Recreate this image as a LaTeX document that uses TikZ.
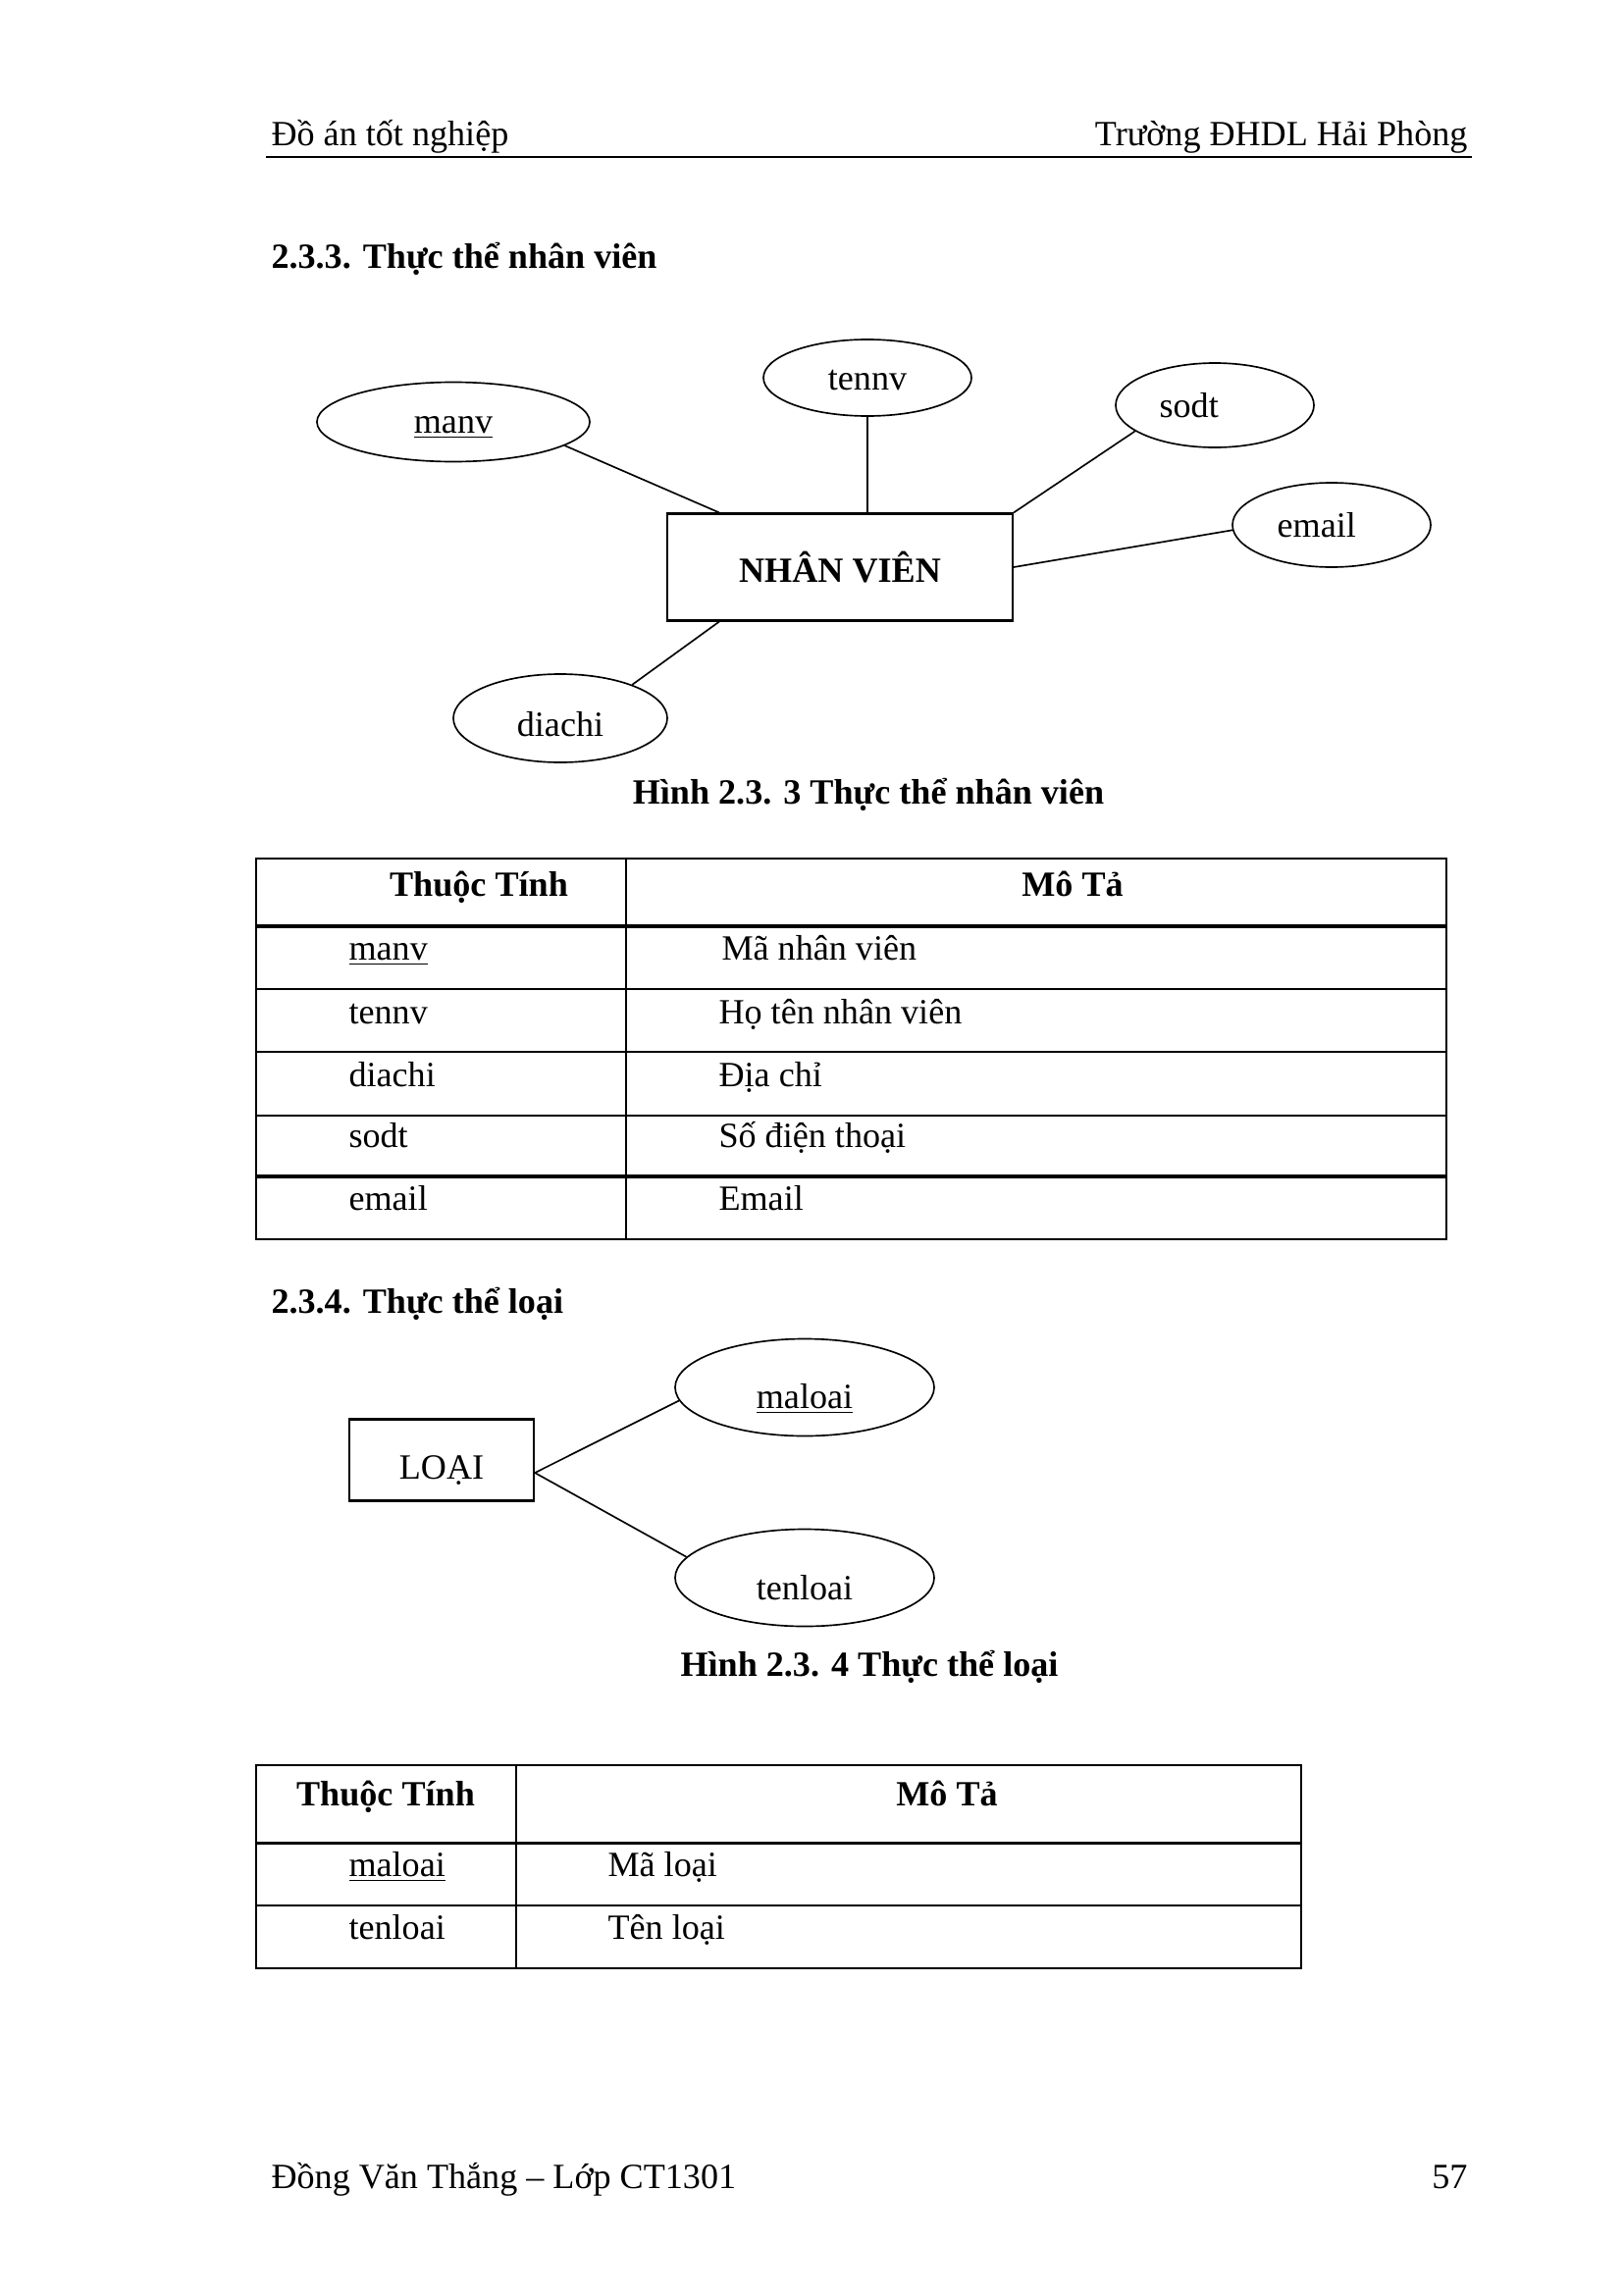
\documentclass[tikz,border=0pt]{standalone}
\usepackage{fontspec}
\setmainfont{Liberation Serif}
\usetikzlibrary{shapes.geometric}
\def\pxl{0.36125pt}
\newcommand\dropby[2]{\raisebox{-#1}[\height][\depth]{#2}}
\begin{document}
\begin{tikzpicture}[x=0.36125pt,y=-0.36125pt,
  txt/.style={inner sep=0pt,font=\fontsize{13bp}{15bp}\selectfont},
  btxt/.style={inner sep=0pt,font=\fontsize{13bp}{15bp}\selectfont\bfseries},
  attr/.style={ellipse,draw,line width=0.6pt,inner sep=0pt,font=\fontsize{13bp}{15bp}\selectfont},
  entity/.style={draw,line width=0.8pt,inner sep=0pt},
  link/.style={line width=0.6pt},
  grid/.style={line width=0.5pt},
  thickgrid/.style={line width=1.1pt}]
\useasboundingbox[fill=white] (0,0) rectangle (1654,2339);

% header
\node[txt,anchor=base west] (h1) at (276,149) {Đồ án tốt nghiệp};
\node[txt,anchor=base east] (h2) at (1496,149) {Trường ĐHDL Hải Phòng};
\coordinate (hr1) at (271,160);
\coordinate (hr2) at (1500,160);
\draw[line width=0.5pt] (hr1) -- (hr2);

\node[btxt,anchor=base west] (s1) at (276,273) {2.3.3. Thực thể nhân viên};

% diagram 1
\node[entity,btxt,draw,line width=0.8pt,minimum width=352*\pxl,minimum height=109*\pxl] (nv) at (856,578) {NHÂN VIÊN};
\node[attr,minimum width=278*\pxl,minimum height=81*\pxl] (manv) at (462,430) {\dropby{2.2pt}{\underline{manv}}};
\node[attr,minimum width=212*\pxl,minimum height=78*\pxl] (tennv) at (884,385) {\dropby{1pt}{tennv}};
\node[attr,minimum width=202*\pxl,minimum height=86*\pxl] (sodt) at (1238,413) {\kern-19pt sodt};
\node[attr,minimum width=202*\pxl,minimum height=86*\pxl] (email) at (1357,535) {\kern-11pt email};
\node[attr,minimum width=218*\pxl,minimum height=90*\pxl] (diachi) at (571,732) {\dropby{2.2pt}{diachi}};

\draw[link] (manv.-12) -- ([xshift=54*\pxl]nv.north west);
\draw[link] (tennv.south) -- (tennv.south |- nv.north);
\draw[link] (sodt.-162) -- (nv.north east);
\draw[link] (email.-177) -- (nv.east);
\draw[link] (diachi.25) -- ([xshift=54*\pxl]nv.south west);

\node[btxt,anchor=base] (cap1) at (885,819) {Hình 2.3. 3 Thực thể nhân viên};

% table 1
\draw[grid] (261,875) rectangle (1474,1263);
\draw[grid] (638,875) -- (638,1263);
\draw[thickgrid] (261,944) -- (1474,944);
\draw[grid] (261,1008) -- (1474,1008);
\draw[grid] (261,1072) -- (1474,1072);
\draw[grid] (261,1137) -- (1474,1137);
\draw[thickgrid] (261,1199) -- (1474,1199);

\node[btxt,anchor=base] (t1h1) at (488,913) {Thuộc Tính};
\node[btxt,anchor=base] (t1h2) at (1093,913) {Mô Tả};
\node[txt,anchor=base west] (t1a1) at (355,978) {\underline{manv}};
\node[txt,anchor=base west] (t1b1) at (735,978) {Mã nhân viên};
\node[txt,anchor=base west] (t1a2) at (355,1043) {tennv};
\node[txt,anchor=base west] (t1b2) at (732,1043) {Họ tên nhân viên};
\node[txt,anchor=base west] (t1a3) at (355,1107) {diachi};
\node[txt,anchor=base west] (t1b3) at (732,1107) {Địa chỉ};
\node[txt,anchor=base west] (t1a4) at (355,1169) {sodt};
\node[txt,anchor=base west] (t1b4) at (732,1169) {Số điện thoại};
\node[txt,anchor=base west] (t1a5) at (355,1233) {email};
\node[txt,anchor=base west] (t1b5) at (732,1233) {Email};

% section 2
\node[btxt,anchor=base west] (s2) at (276,1338) {2.3.4. Thực thể loại};

\node[entity,txt,draw,line width=0.8pt,minimum width=188*\pxl,minimum height=83*\pxl] (loai) at (450,1488) {\dropby{3.8pt}{LOẠI}};
\node[attr,minimum width=264*\pxl,minimum height=99*\pxl] (maloai) at (820,1414) {\dropby{4.3pt}{\underline{maloai}}};
\node[attr,minimum width=264*\pxl,minimum height=99*\pxl] (tenloai) at (820,1608) {\dropby{3.7pt}{tenloai}};

\draw[link] ([yshift=-13*\pxl]loai.east) -- (maloai.-174);
\draw[link] ([yshift=-13*\pxl]loai.east) -- (tenloai.170);

\node[btxt,anchor=base] (cap2) at (886,1708) {Hình 2.3. 4 Thực thể loại};

% table 2
\draw[grid] (261,1799) rectangle (1326,2006);
\draw[grid] (526,1799) -- (526,2006);
\draw[thickgrid] (261,1878) -- (1326,1878);
\draw[grid] (261,1942) -- (1326,1942);

\node[btxt,anchor=base] (t2h1) at (393,1840) {Thuộc Tính};
\node[btxt,anchor=base] (t2h2) at (965,1840) {Mô Tả};
\node[txt,anchor=base west] (t2a1) at (355,1912) {\underline{maloai}};
\node[txt,anchor=base west] (t2b1) at (619,1912) {Mã loại};
\node[txt,anchor=base west] (t2a2) at (355,1976) {tenloai};
\node[txt,anchor=base west] (t2b2) at (619,1976) {Tên loại};

% footer
\node[txt,anchor=base west] (f1) at (276,2230) {Đồng Văn Thắng – Lớp CT1301};
\node[txt,anchor=base east] (f2) at (1496,2230) {57};
\end{tikzpicture}
\end{document}
